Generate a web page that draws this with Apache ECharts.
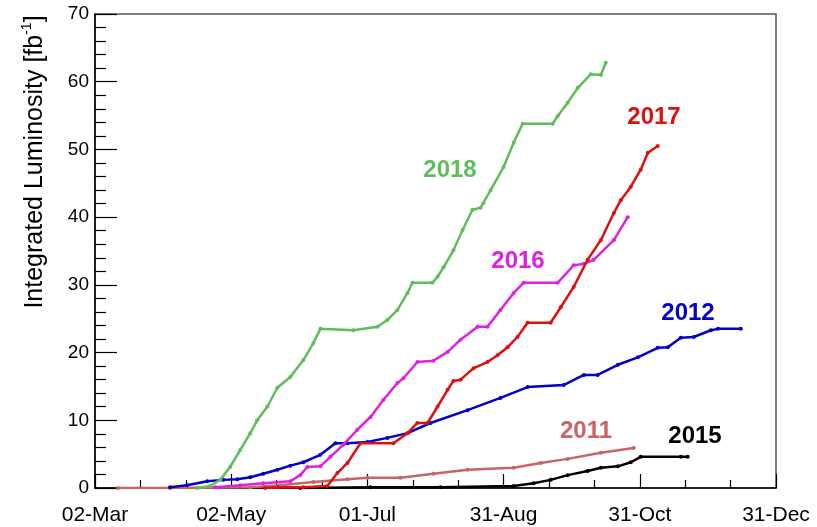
<!DOCTYPE html>
<html>
<head>
<meta charset="utf-8">
<script src="https://cdn.jsdelivr.net/npm/echarts@6/dist/echarts.min.js"></script>
<style>
  html, body { margin: 0; padding: 0; background: #fff; }
  #lumiChart { width: 817px; height: 527px; }
</style>
</head>
<body>
<div id="lumiChart"></div>
<script>
// x = days since 02-Mar, y = integrated luminosity [fb^-1]
var xLabels = ['02-Mar', '02-May', '01-Jul', '31-Aug', '31-Oct', '31-Dec'];

var lumi2011 = [[10.3,0],[33.5,0],[69.3,0.1],[82.7,0.4],[97.5,0.9],[112.7,1.3],[121.6,1.5],[136.3,1.5],[151.1,2.1],[166.3,2.7],[186.9,3.0],[198.9,3.7],[211.0,4.3],[225.8,5.2],[240.5,5.9]];
var lumi2012 = [[33.5,0.1],[41.1,0.4],[50.1,1.0],[57.2,1.2],[63.5,1.3],[69.3,1.6],[75.1,2.1],[81.4,2.7],[87.2,3.3],[93.0,3.8],[100.6,4.9],[107.3,6.6],[112.7,6.6],[121.6,6.8],[130.5,7.4],[139.5,8.1],[149.8,9.6],[166.3,11.5],[181.0,13.3],[193.1,14.9],[209.2,15.2],[218.2,16.7],[224.4,16.7],[233.4,18.2],[242.3,19.3],[251.2,20.7],[255.7,20.8],[261.5,22.2],[267.3,22.3],[274.9,23.3],[278.1,23.5],[288.3,23.5]];
var lumi2015 = [[91.6,0],[122.9,0.1],[154.2,0.1],[186.9,0.3],[195.8,0.7],[203.4,1.2],[211.0,1.9],[219.9,2.5],[225.8,3.0],[233.4,3.2],[239.2,3.8],[243.6,4.6],[261.5,4.6],[264.6,4.6]];
var lumi2016 = [[53.6,0.1],[64.8,0.4],[75.1,0.7],[87.2,1.0],[91.6,1.9],[94.8,3.1],[100.6,3.2],[105.1,4.6],[110.9,6.4],[117.1,8.6],[123.0,10.5],[128.7,13.0],[135.0,15.5],[137.7,16.2],[143.9,18.6],[151.1,18.8],[157.4,20.1],[163.2,21.9],[170.8,23.8],[175.2,23.8],[181.0,26.3],[186.9,28.8],[191.3,30.3],[206.5,30.3],[213.7,32.9],[218.2,33.1],[222.6,33.7],[231.6,36.6],[237.8,40.0]];
var lumi2017 = [[76.0,0],[81.4,0.1],[93.0,0.1],[103.7,0.3],[108.2,2.2],[112.7,3.7],[118.5,6.6],[133.2,6.6],[139.5,8.1],[143.9,9.6],[148.4,9.6],[152.9,12.0],[157.4,14.5],[160.0,15.8],[163.2,16.0],[169.0,17.7],[175.2,18.6],[179.7,19.6],[184.2,20.8],[188.6,22.3],[193.1,24.4],[203.4,24.4],[207.9,26.7],[213.7,29.7],[219.9,33.7],[225.8,36.6],[231.6,40.6],[234.7,42.5],[239.2,44.5],[243.6,47.0],[246.8,49.5],[251.2,50.5]];
var lumi2018 = [[45.6,0],[51.4,0.3],[55.9,1.2],[60.3,3.1],[64.8,5.6],[69.3,8.1],[72.4,10.0],[76.9,12.0],[81.4,14.8],[87.2,16.4],[93.0,18.9],[97.5,21.4],[100.6,23.5],[115.3,23.3],[126.1,23.8],[130.5,24.8],[135.0,26.3],[139.5,28.8],[141.7,30.3],[150.6,30.3],[152.9,31.2],[155.6,32.6],[160.0,35.1],[164.1,38.1],[168.5,41.1],[172.1,41.4],[173.4,42.1],[176.6,44.0],[182.4,47.4],[186.9,51.0],[190.9,53.8],[204.3,53.8],[206.5,54.9],[211.0,56.9],[215.5,59.1],[221.3,61.1],[225.8,61.0],[228.0,62.8]];

var years = ['2011', '2012', '2015', '2016', '2017', '2018'];
var yearData = [lumi2011, lumi2012, lumi2015, lumi2016, lumi2017, lumi2018];
var yearColors = ['#c86464', '#0000c8', '#000000', '#e020e0', '#dd1010', '#60bd5c'];

var fontName = '"Liberation Sans", Arial, Helvetica, sans-serif';

var series = years.map(function (y, i) {
  return {
    name: y,
    type: 'line',
    data: yearData[i],
    showAllSymbol: true,
    symbol: 'circle',
    symbolSize: 4,
    lineStyle: { color: yearColors[i], width: 2.5 },
    itemStyle: { color: yearColors[i] },
    z: 2 + i
  };
});

// year tags, placed as in the original plot
var tags = [
  { text: '2011', x: 586, y: 431 },
  { text: '2012', x: 688, y: 313 },
  { text: '2015', x: 695, y: 436 },
  { text: '2016', x: 518, y: 261 },
  { text: '2017', x: 654, y: 117 },
  { text: '2018', x: 450, y: 170 }
];

var graphics = tags.map(function (t, i) {
  return {
    type: 'text',
    x: t.x,
    y: t.y,
    z: 100,
    style: {
      text: t.text,
      fill: yearColors[i],
      font: 'bold 24px ' + fontName,
      align: 'center',
      verticalAlign: 'middle'
    }
  };
});

graphics.push({
  type: 'text',
  x: 34,
  y: 162,
  rotation: Math.PI / 2,
  style: {
    text: '{t|Integrated Luminosity [fb}{s|-1}{t|]}',
    align: 'center',
    verticalAlign: 'middle',
    rich: {
      t: { fontSize: 25, fontFamily: fontName, fill: '#000', verticalAlign: 'bottom', lineHeight: 28 },
      s: { fontSize: 14, fontFamily: fontName, fill: '#000', verticalAlign: 'top', lineHeight: 28 }
    }
  }
});

var myChart = echarts.init(document.getElementById('lumiChart'));
myChart.setOption({
  animation: false,
  backgroundColor: '#fff',
  grid: {
    left: 95,
    right: 41,
    top: 14,
    bottom: 39,
    show: true,
    borderColor: '#555',
    borderWidth: 1.5
  },
  xAxis: {
    type: 'value',
    min: 0,
    max: 304,
    interval: 60.8,
    axisLine: { lineStyle: { color: '#000', width: 1.5 } },
    axisTick: { inside: true, length: 14, lineStyle: { color: '#000', width: 1.2 } },
    minorTick: { show: true, splitNumber: 3, length: 8, lineStyle: { color: '#000', width: 1.2 } },
    splitLine: { show: false },
    axisLabel: {
      margin: 17,
      color: '#000',
      fontSize: 21,
      fontFamily: fontName,
      showMaxLabel: true,
      showMinLabel: true,
      formatter: function (v) { return xLabels[Math.round(v / 60.8)]; }
    }
  },
  yAxis: {
    type: 'value',
    min: 0,
    max: 70,
    interval: 10,
    axisLine: { show: true, lineStyle: { color: '#000', width: 1.5 } },
    axisTick: { show: true, inside: true, length: 22, lineStyle: { color: '#000', width: 1.2 } },
    minorTick: { show: true, splitNumber: 5, length: 11, lineStyle: { color: '#000', width: 1.2 } },
    splitLine: { show: false },
    axisLabel: { margin: 6, color: '#000', fontSize: 19, fontFamily: fontName }
  },
  graphic: graphics,
  series: series
});
</script>
</body>
</html>
